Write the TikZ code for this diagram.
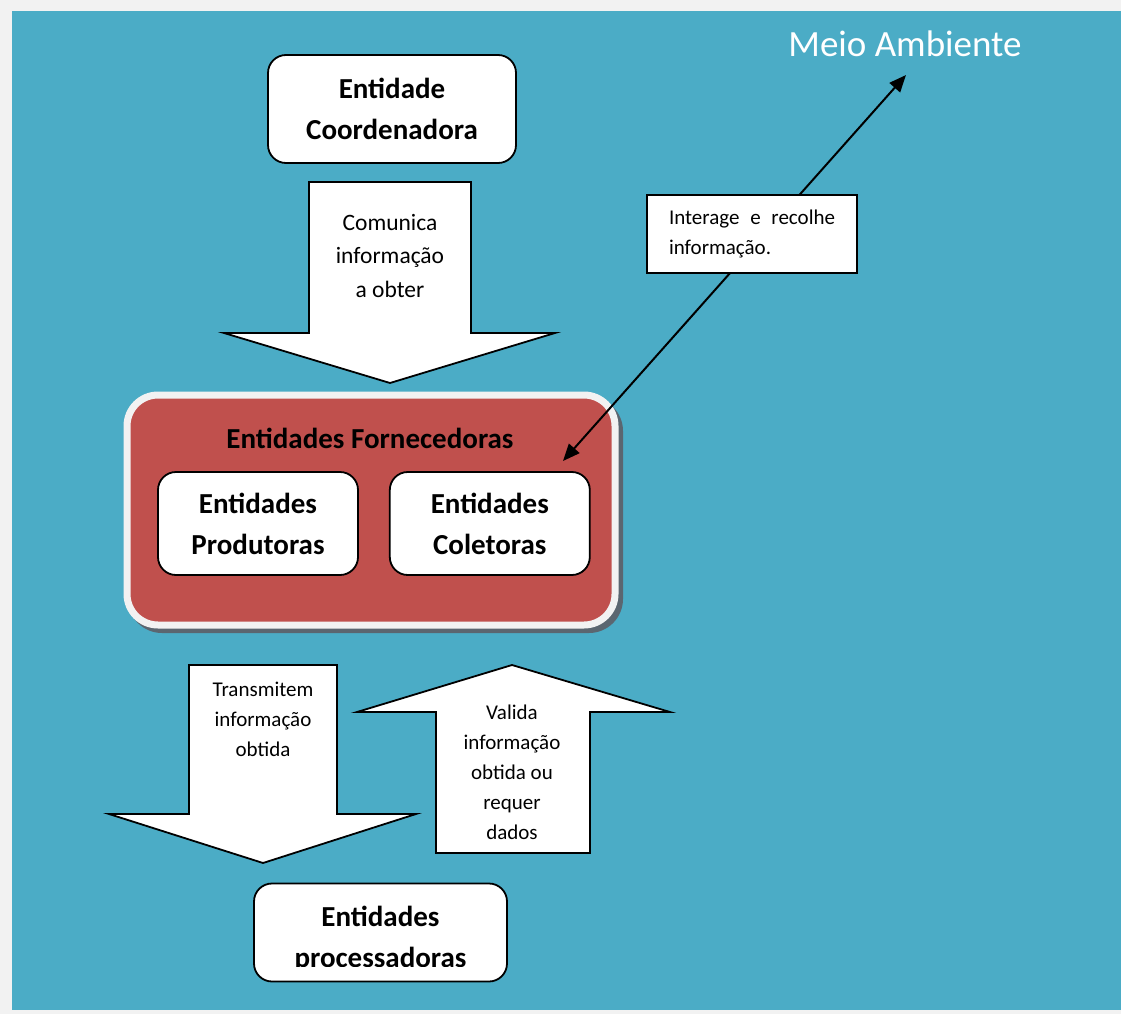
\documentclass[tikz,border=0pt]{standalone}
\usepackage{fontspec}
\setmainfont{Carlito}
\usepackage{tikz}
\usetikzlibrary{arrows.meta, positioning}
\definecolor{fundo}{HTML}{4BACC6}
\definecolor{vermelho}{HTML}{C0504D}
\definecolor{margem}{HTML}{F2F2F2}
\definecolor{sombra}{HTML}{5B6670}

\tikzset{
  caixa/.style={draw=black, line width=1.8pt, fill=white, rounded corners=18pt,
    align=center, font=\fontsize{29}{41}\selectfont\bfseries},
  seta/.style={draw=black, line width=1.8pt, fill=white},
  rotulo/.style={align=center, font=\fontsize{21}{30}\selectfont},
}

\begin{document}
\begin{tikzpicture}[x=1pt, y=-1pt, >={Triangle[length=17pt, width=14pt]}]
  \useasboundingbox (0,0) rectangle (1121,1014);
  % Fundo
  \fill[margem] (0,0) rectangle (1121,1014);
  \fill[fundo] (12,11) rectangle (1121,1010);
  % Entidade coordenadora
  \node[caixa, minimum width=248pt, minimum height=108pt] (coord) at (392,109)
    {Entidade\\Coordenadora};
  \draw[seta] (309,182) -- (471,182) -- (471,333) -- (555,333) -- (390,383)
    -- (224,333) -- (309,333) -- cycle;
  \node[rotulo, font=\fontsize{23.5}{33.5}\selectfont] (comunica) at (390,256)
    {Comunica\\informação\\a obter};
  % Entidades fornecedoras
  \fill[sombra, rounded corners=34pt] (128,397) rectangle (623,633);
  \node[draw=margem, line width=7pt, fill=vermelho, rounded corners=31pt,
    minimum width=488pt, minimum height=230pt] (fornec) at (371,510) {};
  \node[anchor=base, font=\fontsize{29}{41}\selectfont\bfseries] (titulo) at (370,448)
    {Entidades Fornecedoras};
  \node[caixa, minimum width=200pt, minimum height=103pt] (prod) at (258,523.5)
    {Entidades\\Produtoras};
  \node[caixa, minimum width=200pt, minimum height=103pt, right=30pt of prod] (colet)
    {Entidades\\Coletoras};
  % Meio ambiente
  \node[anchor=base, text=white, font=\fontsize{37}{44}\selectfont] (meio) at (905,57)
    {Meio Ambiente};
  \coordinate (meioponta) at (906,75);
  \coordinate (coletponta) at (563,461);
  \draw[<->, line width=2pt] (coletponta) -- (meioponta);
  \node[draw=black, line width=1.8pt, fill=white, minimum width=210pt, minimum height=78pt,
    text width=166pt, align=justify, font=\fontsize{21}{30}\selectfont] (interage) at (752,234)
    {Interage e recolhe informação.};
  % Setas de baixo
  \draw[seta] (189,665) -- (337,665) -- (337,814) -- (416,814) -- (263,863)
    -- (109,814) -- (189,814) -- cycle;
  \node[rotulo] (transm) at (263,719) {Transmitem\\informação\\obtida};
  \draw[seta] (512,665) -- (670,712) -- (590,712) -- (590,853) -- (436,853)
    -- (436,712) -- (357,712) -- cycle;
  \node[rotulo] (valida) at (512,772) {Valida\\informação\\obtida ou\\requer\\dados};
  % Entidades processadoras
  \node[caixa, minimum width=253pt, minimum height=98pt] (proc) at (380.5,932.5) {};
  \begin{scope}
    \clip (256,886) rectangle (505,966);
    \node[align=center, font=\fontsize{29}{41}\selectfont\bfseries] (proctxt) at (380.5,939.5)
      {Entidades\\processadoras};
  \end{scope}
\end{tikzpicture}
\end{document}
